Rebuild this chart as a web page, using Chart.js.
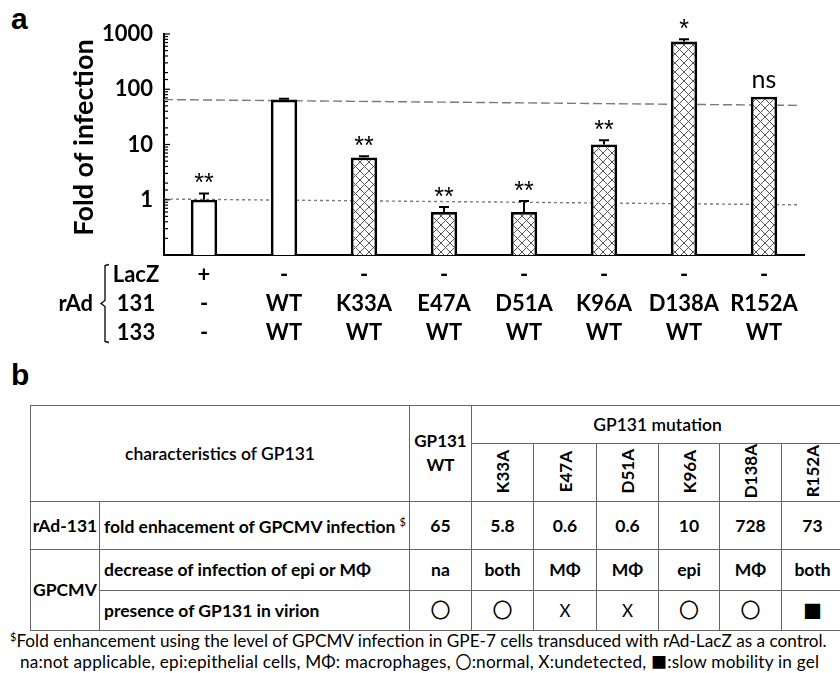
<!DOCTYPE html>
<html>
<head>
<meta charset="utf-8">
<script src="https://cdn.jsdelivr.net/npm/chart.js@4.4.1/dist/chart.umd.min.js"></script>
<style>
  html, body { margin: 0; padding: 0; background: #fff; }
  body { width: 840px; height: 673px; overflow: hidden; position: relative;
         font-family: Lato, "Liberation Sans", sans-serif; color: #000; }
  #chart { position: absolute; left: 0; top: 0; }
  .panel { position: absolute; font-family: "Liberation Sans", Arial, sans-serif; font-weight: bold; font-size: 30px; }
  table { position: absolute; left: 30px; top: 405px; width: 813px; border-collapse: collapse; table-layout: fixed; }
  td { border: 1px solid #666; padding: 0; text-align: center; vertical-align: middle; font-weight: bold; font-size: 17.5px; white-space: nowrap; overflow: hidden; line-height: 1; }
  td.left { text-align: left; padding-left: 4px; }
  td.hd { font-weight: 600; font-size: 17.5px; }
  .vert { writing-mode: vertical-rl; transform: rotate(180deg); display: inline-block; font-size: 17px; }
  .sym { font-family: "Noto Sans CJK JP", sans-serif; font-weight: normal; }
  .foot { position: absolute; font-size: 17.2px; white-space: nowrap; line-height: 21px; }
  .foot sup { font-size: 11px; vertical-align: 6px; line-height: 0; }
</style>
</head>
<body>
<div class="panel" style="left:11px; top:2px;">a</div>
<canvas id="chart" width="840" height="356"></canvas>
<div class="panel" style="left:11px; top:358px;">b</div>
<table id="tbl">
  <colgroup>
    <col style="width:69px"><col style="width:310px"><col style="width:62px">
    <col style="width:62px"><col style="width:63px"><col style="width:62px">
    <col style="width:61px"><col style="width:62px"><col style="width:62px">
  </colgroup>
  <tr style="height:38px">
    <td class="hd" colspan="2" rowspan="2">characteristics of GP131</td>
    <td rowspan="2" style="line-height:24px; font-size:17px">GP131<br>WT</td>
    <td class="hd" colspan="7">GP131 mutation</td>
  </tr>
  <tr style="height:55px" id="mutRow"></tr>
  <tr style="height:48px" id="foldRow">
    <td>rAd-131</td>
    <td class="left">fold enhacement of GPCMV infection <sup style="font-size:11px;font-weight:normal">$</sup></td>
  </tr>
  <tr style="height:41px" id="decRow">
    <td class="left" rowspan="2" style="padding-left:2px">GPCMV</td>
    <td class="left">decrease of infection of epi or MΦ</td>
  </tr>
  <tr style="height:40px" id="presRow">
    <td class="left">presence of GP131 in virion</td>
  </tr>
</table>
<div class="foot" style="left:10px; top:630px;"><sup>$</sup>Fold enhancement using the level of GPCMV infection in GPE-7 cells transduced with rAd-LacZ as a control.</div>
<div class="foot" style="left:20px; top:651px; letter-spacing:0.2px;">na:not applicable, epi:epithelial cells, MΦ: macrophages, <span class="sym" style="font-size:16px">〇</span>:normal, X:undetected, <span class="sym" style="font-size:16px">■</span>:slow mobility in gel</div>

<script>
// panel a data
const groups = ['LacZ', 'WT', 'K33A', 'E47A', 'D51A', 'K96A', 'D138A', 'R152A'];
const lacz = ['+', '-', '-', '-', '-', '-', '-', '-'];
const rad131 = ['-', 'WT', 'K33A', 'E47A', 'D51A', 'K96A', 'D138A', 'R152A'];
const rad133 = ['-', 'WT', 'WT', 'WT', 'WT', 'WT', 'WT', 'WT'];
const foldValues = [1, 65, 5.8, 0.6, 0.6, 10, 728, 73];
const errorTops = [1.3, 67, 6.1, 0.74, 0.95, 12, 800, 73];
const hatched = [false, false, true, true, true, true, true, true];
const signif = ['**', '', '**', '**', '**', '**', '*', 'ns'];
const yTickLabels = [1, 10, 100, 1000];
// dashed reference lines: value at left end, value at right end
const refLines = [
    { from: 65, to: 51, dash: [9, 4] },
    { from: 1.03, to: 0.81, dash: [3, 3] }
];
const rowNames = ['LacZ', '131', '133'];

// panel b data
const mutations = ['K33A', 'E47A', 'D51A', 'K96A', 'D138A', 'R152A'];
const tableFold = ['65', '5.8', '0.6', '0.6', '10', '728', '73'];
const tableDecrease = ['na', 'both', 'MΦ', 'MΦ', 'epi', 'MΦ', 'both'];
const tablePresence = ['〇', '〇', 'X', 'X', '〇', '〇', '■'];

const FONT = 'Lato, "Liberation Sans", sans-serif';
const TICK_PAD = 5;
const LINE_H = 29;

function buildTable() {
    const mutRow = document.getElementById('mutRow');
    mutations.forEach(m => {
        const td = document.createElement('td');
        td.innerHTML = '<span class="vert">' + m + '</span>';
        mutRow.appendChild(td);
    });
    const addCells = (id, arr, sym) => {
        const row = document.getElementById(id);
        arr.forEach(v => {
            const td = document.createElement('td');
            td.textContent = v;
            if (sym) {
                td.style.fontWeight = 'normal';
                if (v !== 'X') { td.className = 'sym'; td.style.fontSize = v === '■' ? '19px' : '20px'; }
                else td.style.fontSize = '17px';
            }
            row.appendChild(td);
        });
    };
    addCells('foldRow', tableFold);
    addCells('decRow', tableDecrease);
    addCells('presRow', tablePresence, true);
}
buildTable();

function hatchPattern() {
    const s = 9;
    const c = document.createElement('canvas');
    c.width = s; c.height = s;
    const g = c.getContext('2d');
    g.fillStyle = '#fff';
    g.fillRect(0, 0, s, s);
    g.strokeStyle = '#555';
    g.lineWidth = 1;
    g.beginPath();
    g.moveTo(-1, -1); g.lineTo(s + 1, s + 1);
    g.moveTo(s + 1, -1); g.lineTo(-1, s + 1);
    g.stroke();
    return g.createPattern(c, 'repeat');
}
const hatch = hatchPattern();

const decorations = {
    id: 'decorations',
    beforeDatasetsDraw(chart) {
        const { ctx, chartArea } = chart;
        const y = chart.scales.y;
        ctx.save();
        ctx.strokeStyle = '#7a7a7a';
        ctx.lineWidth = 1.4;
        refLines.forEach(r => {
            ctx.setLineDash(r.dash);
            ctx.beginPath();
            ctx.moveTo(chartArea.left, y.getPixelForValue(r.from));
            ctx.lineTo(chartArea.right - 4, y.getPixelForValue(r.to));
            ctx.stroke();
        });
        ctx.restore();
    },
    afterDatasetsDraw(chart) {
        const { ctx, chartArea } = chart;
        const y = chart.scales.y;
        const bars = chart.getDatasetMeta(0).data;
        ctx.save();
        // error bars (upper only)
        ctx.strokeStyle = '#000';
        ctx.lineWidth = 2;
        bars.forEach((bar, i) => {
            if (errorTops[i] <= foldValues[i]) return;
            const top = y.getPixelForValue(errorTops[i]);
            const base = y.getPixelForValue(foldValues[i]);
            ctx.beginPath();
            ctx.moveTo(bar.x, base);
            ctx.lineTo(bar.x, top);
            ctx.moveTo(bar.x - 5, top);
            ctx.lineTo(bar.x + 5, top);
            ctx.stroke();
        });
        // significance marks
        ctx.fillStyle = '#000';
        ctx.textAlign = 'center';
        ctx.textBaseline = 'alphabetic';
        bars.forEach((bar, i) => {
            if (!signif[i]) return;
            const top = y.getPixelForValue(errorTops[i]);
            if (signif[i] === 'ns') {
                ctx.font = '25px ' + FONT;
                ctx.fillText('ns', bar.x, top - 9);
            } else {
                ctx.font = '25px "Liberation Sans", sans-serif';
                ctx.fillText(signif[i], bar.x, top - 2);
            }
        });
        // inward minor/major ticks on y axis
        ctx.lineWidth = 1.2;
        y.ticks.forEach(t => {
            const py = y.getPixelForValue(t.value);
            const major = Math.abs(Math.log10(t.value) - Math.round(Math.log10(t.value))) < 1e-6;
            ctx.beginPath();
            ctx.moveTo(chartArea.left, py);
            ctx.lineTo(chartArea.left + (major ? 6 : 4), py);
            ctx.stroke();
        });
        ctx.restore();
    },
    afterDraw(chart) {
        const { ctx, chartArea } = chart;
        const x = chart.scales.x;
        ctx.save();
        // y title
        ctx.font = 'bold 27px ' + FONT;
        ctx.fillStyle = '#000';
        ctx.textAlign = 'center';
        ctx.textBaseline = 'middle';
        ctx.translate(84, (chartArea.top + chartArea.bottom) / 2 - 7);
        ctx.rotate(-Math.PI / 2);
        ctx.fillText('Fold of infection', 0, 0);
        ctx.restore();

        // row labels under the x axis
        ctx.save();
        ctx.font = 'bold 22px ' + FONT;
        ctx.fillStyle = '#000';
        ctx.textBaseline = 'middle';
        ctx.textAlign = 'center';
        const rowY = i => x.top + TICK_PAD + LINE_H * (i + 0.5);
        rowNames.forEach((n, i) => ctx.fillText(n, 136, rowY(i)));
        ctx.textAlign = 'right';
        ctx.fillText('rAd', 93, rowY(1));
        // bracket
        const t = rowY(0) - 10, b = rowY(2) + 10, m = rowY(1);
        ctx.strokeStyle = '#000';
        ctx.lineWidth = 1.3;
        ctx.beginPath();
        ctx.moveTo(109, t);
        ctx.lineTo(105, t + 1);
        ctx.lineTo(105, m - 3);
        ctx.lineTo(101, m);
        ctx.lineTo(105, m + 3);
        ctx.lineTo(105, b - 1);
        ctx.lineTo(109, b);
        ctx.stroke();
        ctx.restore();
    }
};

new Chart(document.getElementById('chart'), {
    type: 'bar',
    data: {
        labels: groups.map((g, i) => [lacz[i], rad131[i], rad133[i]]),
        datasets: [{
            data: foldValues,
            backgroundColor: hatched.map(h => h ? hatch : '#fff'),
            borderColor: '#000',
            borderWidth: 2.8,
            categoryPercentage: 1,
            barPercentage: 0.33
        }]
    },
    options: {
        responsive: false,
        animation: false,
        devicePixelRatio: 1,
        layout: { padding: { left: 0, right: 36, top: 34, bottom: 4 } },
        plugins: { legend: { display: false }, tooltip: { enabled: false } },
        scales: {
            x: {
                type: 'category',
                grid: { display: false, drawTicks: false },
                border: { display: true, color: '#000', width: 2 },
                ticks: {
                    color: '#000',
                    padding: TICK_PAD,
                    autoSkip: false,
                    maxRotation: 0,
                    font: { family: FONT, size: 22, weight: 'bold', lineHeight: LINE_H / 22 }
                }
            },
            y: {
                type: 'logarithmic',
                min: 0.1,
                max: 1000,
                afterFit: s => { s.width = 164; },
                grid: { display: false, drawTicks: false },
                border: { display: true, color: '#000', width: 2 },
                ticks: {
                    color: '#000',
                    padding: 11,
                    autoSkip: false,
                    font: { family: FONT, size: 22, weight: 'bold' },
                    callback: v => yTickLabels.includes(v) ? String(v) : ''
                }
            }
        }
    },
    plugins: [decorations]
});
</script>
</body>
</html>
